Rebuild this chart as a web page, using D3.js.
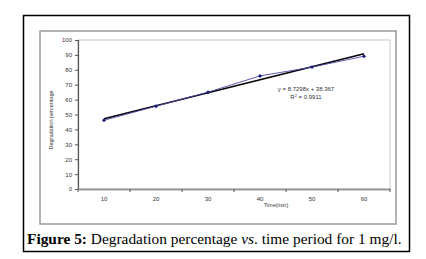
<!DOCTYPE html>
<html><head><meta charset="utf-8">
<script src="https://cdn.jsdelivr.net/npm/d3@7"></script>
<style>body{margin:0;background:#fff}svg{display:block}</style>
</head><body>
<svg id="c" width="426" height="259"></svg>
<script>
const categories = ["10","20","30","40","50","60"];
const values = [46.1, 55.6, 65.0, 75.9, 81.8, 89.1];
const yTicks = [0,10,20,30,40,50,60,70,80,90,100];
const trendSlope = 8.7298, trendIntercept = 38.367, rSquared = 0.9911;
const xTitle = "Time(min)", yTitle = "Degradation percentage";

const svg = d3.select("#c");
// outer frame
svg.append("rect").attr("x",23.5).attr("y",15.5).attr("width",386).attr("height",236)
  .attr("fill","none").attr("stroke","#000").attr("stroke-width",1.5);
// chart area frame
svg.append("rect").attr("x",40).attr("y",31).attr("width",356).attr("height",193)
  .attr("fill","#fff").attr("stroke","#9a9a9a").attr("stroke-width",1.5);

const L=78, R=390, T=40, B=189;
const x = d3.scaleBand().domain(categories).range([L,R]);
const y = d3.scaleLinear().domain([0,100]).range([B,T]);

// plot area border (light)
svg.append("rect").attr("x",L).attr("y",T).attr("width",R-L).attr("height",B-T)
  .attr("fill","none").attr("stroke","#c8c8c8").attr("stroke-width",1);

// y axis
const ya = svg.append("g").attr("transform",`translate(${L},0)`)
  .call(d3.axisLeft(y).tickValues(yTicks).tickSize(3).tickPadding(3));
ya.select(".domain").attr("stroke","#555").attr("stroke-width",1.2);
ya.selectAll(".tick line").attr("stroke","#555");
ya.selectAll("text").attr("font-family","Liberation Sans, Arial, sans-serif").attr("font-size",6).attr("fill","#333");

// x axis
const xa = svg.append("g").attr("transform",`translate(0,${B})`)
  .call(d3.axisBottom(x).tickSize(0).tickPadding(8));
xa.select(".domain").attr("stroke","#999").attr("stroke-width",2);
xa.selectAll("text").attr("font-family","Liberation Sans, Arial, sans-serif").attr("font-size",6).attr("fill","#333");
// category boundary ticks
const bounds = categories.map(c=>x(c)).concat([x(categories[categories.length-1])+x.bandwidth()]);
svg.append("g").selectAll("line").data(bounds).join("line")
  .attr("x1",d=>d).attr("x2",d=>d).attr("y1",B).attr("y2",B+3)
  .attr("stroke","#555").attr("stroke-width",1);

const cx = c => x(c)+x.bandwidth()/2;

// trendline
const trend = [categories[0], categories[categories.length-1]].map(c=>({c, v: trendSlope*(categories.indexOf(c)+1)+trendIntercept}));
svg.append("line").attr("x1",cx(trend[0].c)).attr("y1",y(trend[0].v))
  .attr("x2",cx(trend[1].c)).attr("y2",y(trend[1].v))
  .attr("stroke","#000").attr("stroke-width",1.6);

// series
const line = d3.line().x((d,i)=>cx(categories[i])).y(d=>y(d));
svg.append("path").datum(values).attr("d",line).attr("fill","none")
  .attr("stroke","#4a4aa8").attr("stroke-width",0.9);
svg.append("g").selectAll("path").data(values).join("path")
  .attr("transform",(d,i)=>`translate(${cx(categories[i])},${y(d)})`)
  .attr("d",d3.symbol(d3.symbolDiamond2,10)).attr("fill","#1a1a7a");

// equation
const eq = svg.append("g").attr("font-family","Liberation Sans, Arial, sans-serif").attr("font-size",6).attr("fill","#333").attr("text-anchor","middle");
eq.append("text").attr("x",306).attr("y",91).text(`y = ${trendSlope}x + ${trendIntercept}`);
const r2 = eq.append("text").attr("x",306).attr("y",99);
r2.append("tspan").text("R");
r2.append("tspan").attr("font-size",4).attr("dy",-2).text("2");
r2.append("tspan").attr("dy",2).text(` = ${rSquared}`);

// axis titles
svg.append("text").attr("x",276).attr("y",207).attr("text-anchor","middle")
  .attr("font-family","Liberation Sans, Arial, sans-serif").attr("font-size",5.5).attr("fill","#333").text(xTitle);
svg.append("text").attr("transform","translate(53,120) rotate(-90)").attr("text-anchor","middle")
  .attr("font-family","Liberation Sans, Arial, sans-serif").attr("font-size",5.5).attr("fill","#333").text(yTitle);

// caption
const cap = svg.append("text").attr("x",27).attr("y",243.5)
  .attr("font-family","Liberation Serif, Times New Roman, serif").attr("font-size",15.4).attr("fill","#000");
cap.append("tspan").attr("font-weight","bold").text("Figure 5:");
cap.append("tspan").text(" Degradation percentage ");
cap.append("tspan").attr("font-style","italic").text("vs");
cap.append("tspan").text(". time period for 1 mg/l.");
</script>
</body></html>
